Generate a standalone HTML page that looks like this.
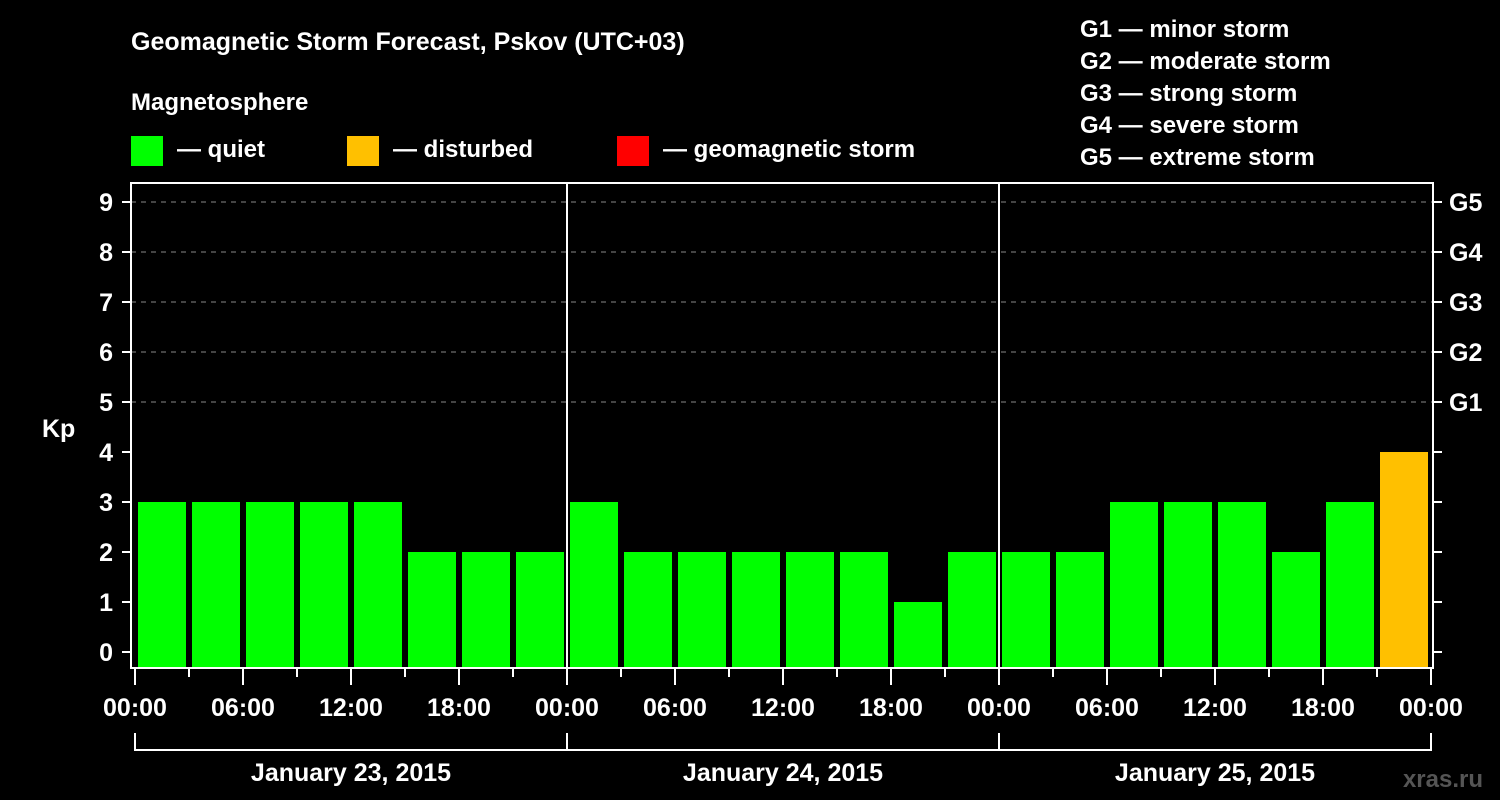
<!DOCTYPE html>
<html><head><meta charset="utf-8"><style>
html,body{margin:0;padding:0;background:#000;}
svg{display:block;}
svg text{font-family:"Liberation Sans",Arial,sans-serif;font-weight:bold;}
</style></head><body>
<svg id="chartsvg" width="1500" height="800" viewBox="0 0 1500 800">
<rect width="1500" height="800" fill="#000"/>
<text x="131" y="50" font-size="25" fill="#fff">Geomagnetic Storm Forecast, Pskov (UTC+03)</text>
<text x="131" y="110" font-size="24" fill="#fff">Magnetosphere</text>
<g><rect x="131" y="136" width="32" height="30" fill="#00ff00"/><text x="177" y="157" font-size="24" fill="#fff">— quiet</text></g>
<g><rect x="347" y="136" width="32" height="30" fill="#ffc000"/><text x="393" y="157" font-size="24" fill="#fff">— disturbed</text></g>
<g><rect x="617" y="136" width="32" height="30" fill="#ff0000"/><text x="663" y="157" font-size="24" fill="#fff">— geomagnetic storm</text></g>
<g font-size="24" fill="#fff">
<text x="1080" y="37">G1 — minor storm</text>
<text x="1080" y="69">G2 — moderate storm</text>
<text x="1080" y="101">G3 — strong storm</text>
<text x="1080" y="133">G4 — severe storm</text>
<text x="1080" y="165">G5 — extreme storm</text>
</g>
<text x="42" y="437" font-size="25" fill="#fff">Kp</text>
<text x="1483" y="787" font-size="24" fill="#555" text-anchor="end">xras.ru</text>
<g id="plotgroup"></g>
</svg>
<script>
const kpValues=[3,3,3,3,3,2,2,2, 3,2,2,2,2,2,1,2, 2,2,3,3,3,2,3,4];
const dayLabels=["January 23, 2015","January 24, 2015","January 25, 2015"];
const hourLabels=["00:00","06:00","12:00","18:00"];
const yTicks=[0,1,2,3,4,5,6,7,8,9];
const gLabels=["G1","G2","G3","G4","G5"];
(function(){
const NS="http://www.w3.org/2000/svg";
const grp=document.getElementById('plotgroup');
const x0=135,slot=54,pLeft=131,pRight=1433,pTop=183,pBottom=668;
const yS=v=>652-50*v;
const xS=i=>x0+i*slot;
function mk(t,a){const e=document.createElementNS(NS,t);for(const k in a)e.setAttribute(k,a[k]);grp.appendChild(e);return e;}
function color(v){return v>=5?"#ff0000":v>=4?"#ffc000":"#00ff00";}
yTicks.forEach(v=>{
  if(v>=5){const l=mk('line',{x1:pLeft,x2:pRight,y1:yS(v),y2:yS(v),stroke:'#888','stroke-width':1,'stroke-dasharray':'5,5'});
  
  }
  const t=mk('line',{x1:pLeft-9,x2:pLeft,y1:yS(v),y2:yS(v),stroke:'#fff','stroke-width':2});
  
  
  const t2=mk('line',{x1:pRight,x2:pRight+9,y1:yS(v),y2:yS(v),stroke:'#fff','stroke-width':2});
  
  
  const tx=mk('text',{x:113,y:yS(v)+9,'font-size':25,fill:'#fff','text-anchor':'end'});
  tx.textContent=v;
  
  
});
gLabels.forEach((s,i)=>{
  const tx=mk('text',{x:1449,y:yS(5+i)+9,'font-size':25,fill:'#fff'});
  tx.textContent=s;
  
  
});
kpValues.forEach((v,i)=>{
  const b=mk('rect',{x:xS(i)+3,y:yS(v),width:48,height:pBottom-yS(v),fill:color(v)});
  
  
});
const fr=mk('rect',{x:pLeft,y:pTop,width:pRight-pLeft,height:pBottom-pTop,fill:'none',stroke:'#fff','stroke-width':2});


for(let d=0;d<=dayLabels.length;d++){
  const x=xS(d*8);
  if(d>0&&d<dayLabels.length){const s=mk('line',{x1:x,x2:x,y1:pTop,y2:pBottom,stroke:'#fff','stroke-width':2});
  
  }
  const bt=mk('line',{x1:x,x2:x,y1:733,y2:751,stroke:'#fff','stroke-width':2});
  
  
}
for(let i=0;i<=kpValues.length;i++){
  const x=xS(i);const major=i%2===0;
  const t=mk('line',{x1:x,x2:x,y1:pBottom,y2:major?685:677,stroke:'#fff','stroke-width':2});
  
  
  if(major){const tx=mk('text',{x:x,y:716,'font-size':25,fill:'#fff','text-anchor':'middle'});
  tx.textContent=hourLabels[(i/2)%4];
  
  }
}
const br=mk('line',{x1:xS(0),x2:xS(kpValues.length),y1:750,y2:750,stroke:'#fff','stroke-width':2});


dayLabels.forEach((s,d)=>{
  const tx=mk('text',{x:(xS(d*8)+xS(d*8+8))/2,y:781,'font-size':25,fill:'#fff','text-anchor':'middle'});
  tx.textContent=s;
  
  
});
})();
</script>
</body></html>
